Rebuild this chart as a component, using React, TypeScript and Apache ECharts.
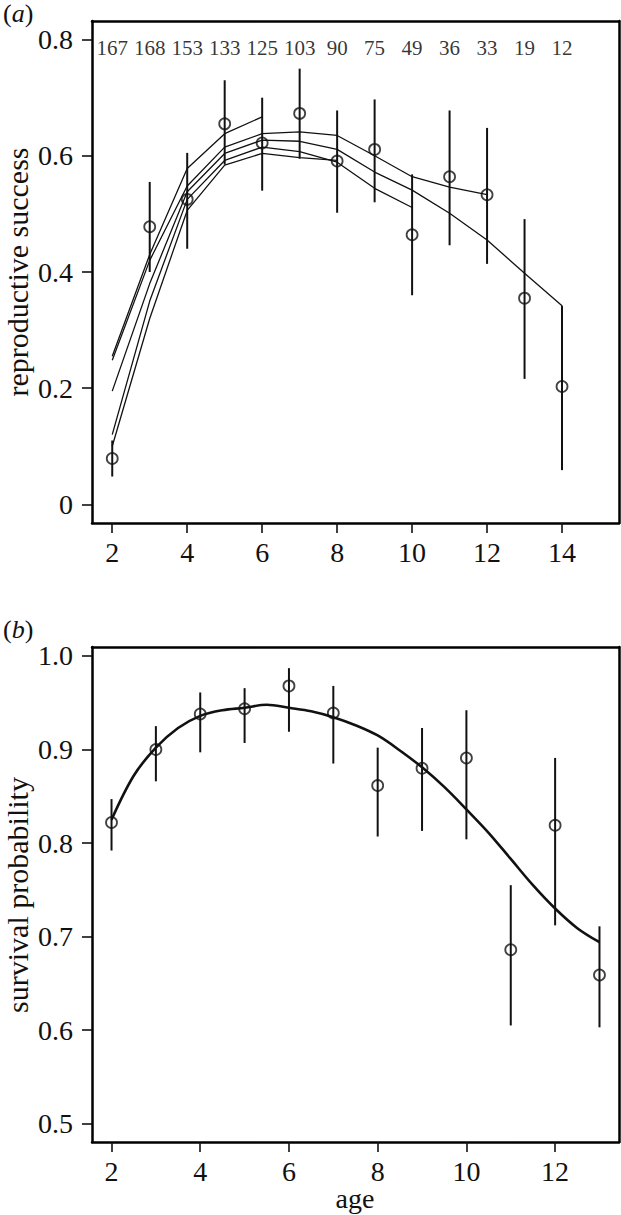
import React, { useEffect, useRef } from "react";
import * as echarts from "echarts";

// ---------- Panel (a): reproductive success ----------
const agesA = [2, 3, 4, 5, 6, 7, 8, 9, 10, 11, 12, 13, 14];
const sampleSizes = [167, 168, 153, 133, 125, 103, 90, 75, 49, 36, 33, 19, 12];
const rsMean = [0.079, 0.478, 0.525, 0.655, 0.622, 0.673, 0.591, 0.611, 0.464, 0.564, 0.533, 0.355, 0.203];
const rsLow = [0.048, 0.4, 0.44, 0.585, 0.54, 0.595, 0.502, 0.52, 0.36, 0.446, 0.414, 0.216, 0.059];
const rsHigh = [0.11, 0.555, 0.605, 0.73, 0.7, 0.75, 0.678, 0.697, 0.568, 0.678, 0.648, 0.491, 0.342];

// fitted trajectories (groups ending at different ages)
const fit6 = [0.255, 0.43, 0.578, 0.638, 0.667];
const fit12 = [0.248, 0.42, 0.548, 0.615, 0.638, 0.641, 0.635, 0.6, 0.564, 0.546, 0.533];
const fit14 = [0.195, 0.38, 0.538, 0.604, 0.627, 0.625, 0.611, 0.572, 0.541, 0.501, 0.455, 0.398, 0.342];
const fit10 = [0.12, 0.35, 0.525, 0.592, 0.615, 0.607, 0.589, 0.544, 0.511];
const fit8 = [0.1, 0.32, 0.506, 0.584, 0.604, 0.597, 0.592];

const xTicksA = [2, 4, 6, 8, 10, 12, 14];
const yTicksA = [0, 0.2, 0.4, 0.6, 0.8];
const sampleRowY = 0.786;

// ---------- Panel (b): survival probability ----------
const agesB = [2, 3, 4, 5, 6, 7, 8, 9, 10, 11, 12, 13];
const survMean = [0.822, 0.9, 0.938, 0.9435, 0.968, 0.939, 0.8615, 0.88, 0.891, 0.686, 0.819, 0.659];
const survLow = [0.792, 0.866, 0.897, 0.907, 0.919, 0.885, 0.807, 0.813, 0.804, 0.605, 0.712, 0.603];
const survHigh = [0.847, 0.925, 0.961, 0.9656, 0.987, 0.968, 0.902, 0.923, 0.942, 0.755, 0.891, 0.711];

const curveAges = [2, 2.5, 3, 3.5, 4, 4.5, 5, 5.5, 6, 6.5, 7, 7.5, 8, 8.5, 9, 9.5, 10, 10.5, 11, 11.5, 12, 12.5, 13];
const curveVals = [0.825, 0.872, 0.902, 0.923, 0.936, 0.942, 0.9446, 0.9478, 0.9446, 0.941, 0.9346, 0.926, 0.915, 0.899, 0.881, 0.86, 0.836, 0.811, 0.783, 0.755, 0.73, 0.709, 0.694];

const xTicksB = [2, 4, 6, 8, 10, 12];
const yTicksB = [0.5, 0.6, 0.7, 0.8, 0.9, 1.0];

const INK = "#111111";
const FRAME = "#000000";
const FONT = "Liberation Serif";

function pairs(xs: number[], ys: number[]) {
  return ys.map((y, i) => [xs[i], y]);
}

function errorBarSeries(xs: number[], lo: number[], hi: number[], axisIndex: number) {
  return {
    type: "custom",
    xAxisIndex: axisIndex,
    yAxisIndex: axisIndex,
    data: xs.map((x, i) => [x, lo[i], hi[i]]),
    renderItem: (params: any, api: any) => {
      const x = api.value(0);
      const p1 = api.coord([x, api.value(1)]);
      const p2 = api.coord([x, api.value(2)]);
      return {
        type: "line",
        shape: { x1: p1[0], y1: p1[1], x2: p2[0], y2: p2[1] },
        style: { stroke: INK, lineWidth: 2 },
      };
    },
    z: 3,
  };
}

function pointSeries(xs: number[], ys: number[], axisIndex: number) {
  return {
    type: "scatter",
    xAxisIndex: axisIndex,
    yAxisIndex: axisIndex,
    data: pairs(xs, ys),
    symbol: "circle",
    symbolSize: 11,
    itemStyle: { color: "rgba(0,0,0,0)", borderColor: INK, borderWidth: 1.8 },
    z: 5,
  };
}

function fitLine(vals: number[], axisIndex: number, width: number, smooth: boolean, xs?: number[]) {
  return {
    type: "line",
    xAxisIndex: axisIndex,
    yAxisIndex: axisIndex,
    data: pairs(xs || agesA, vals),
    showSymbol: false,
    symbol: "none",
    smooth: smooth ? 0.35 : false,
    lineStyle: { color: INK, width },
    z: 4,
  };
}

function frameLine() {
  return { show: true, onZero: false, lineStyle: { color: FRAME, width: 2.5, opacity: 1 } };
}

function xAxisDef(grid: number, min: number, max: number, ticks: number[]) {
  return {
    type: "value",
    gridIndex: grid,
    position: "bottom",
    min,
    max,
    axisLine: frameLine(),
    splitLine: { show: false },
    axisTick: { show: true, inside: false, length: 10, customValues: ticks, lineStyle: { color: INK, width: 1.6 } },
    axisLabel: { show: true, customValues: ticks, margin: 15, fontSize: 28, fontFamily: FONT, color: INK },
  };
}

function yAxisDef(grid: number, min: number, max: number, ticks: number[], fmt: (v: number) => string) {
  return {
    type: "value",
    gridIndex: grid,
    position: "left",
    min,
    max,
    axisLine: frameLine(),
    splitLine: { show: false },
    axisTick: { show: true, inside: false, length: 10, customValues: ticks, lineStyle: { color: INK, width: 1.6 } },
    axisLabel: { show: true, customValues: ticks, margin: 19, fontSize: 28, fontFamily: FONT, color: INK, formatter: fmt },
  };
}

function borderAxis(grid: number, min: number, max: number, position: string) {
  return {
    type: "value",
    gridIndex: grid,
    position,
    min,
    max,
    axisLine: frameLine(),
    splitLine: { show: false },
    axisTick: { show: false },
    axisLabel: { show: false },
  };
}

export default function App() {
  const ref = useRef<HTMLDivElement>(null);

  useEffect(() => {
    document.body.style.margin = "0";
    if (!ref.current) return;
    const chart = echarts.init(ref.current, undefined, { renderer: "svg" });

    const panelLabel = (letter: string, top: number) => ({
      type: "text",
      left: 3,
      top,
      style: {
        text: "{n|(}{i|" + letter + "}{n|)}",
        rich: {
          n: { fontSize: 26, fontFamily: FONT, fill: INK },
          i: { fontSize: 26, fontFamily: FONT, fontStyle: "italic", fill: INK },
        },
      },
    });

    const option: any = {
      animation: false,
      backgroundColor: "#ffffff",
      grid: [
        { left: 92, top: 21, width: 527, height: 502 },
        { left: 92, top: 647, width: 527, height: 495 },
      ],
      xAxis: [
        xAxisDef(0, 1.46, 15.52, xTicksA),
        xAxisDef(1, 1.56, 13.44, xTicksB),
        borderAxis(0, 1.46, 15.52, "top"),
        borderAxis(1, 1.56, 13.44, "top"),
      ],
      yAxis: [
        yAxisDef(0, -0.032, 0.832, yTicksA, (v: number) => (v === 0 ? "0" : v.toFixed(1))),
        yAxisDef(1, 0.4804, 1.0096, yTicksB, (v: number) => v.toFixed(1)),
        borderAxis(0, -0.032, 0.832, "right"),
        borderAxis(1, 0.4804, 1.0096, "right"),
      ],
      series: [
        fitLine(fit6, 0, 1.3, false),
        fitLine(fit12, 0, 1.3, false),
        fitLine(fit14, 0, 1.3, false),
        fitLine(fit10, 0, 1.3, false),
        fitLine(fit8, 0, 1.3, false),
        errorBarSeries(agesA, rsLow, rsHigh, 0),
        pointSeries(agesA, rsMean, 0),
        {
          type: "scatter",
          xAxisIndex: 0,
          yAxisIndex: 0,
          data: agesA.map((a, i) => [a, sampleRowY, sampleSizes[i]]),
          symbolSize: 0,
          label: {
            show: true,
            position: "inside",
            formatter: (p: any) => String(p.value[2]),
            fontSize: 21,
            fontFamily: FONT,
            color: "#000",
          },
          z: 6,
        },
        fitLine(curveVals, 1, 2.6, true, curveAges),
        errorBarSeries(agesB, survLow, survHigh, 1),
        pointSeries(agesB, survMean, 1),
      ],
      graphic: [
        panelLabel("a", 0),
        panelLabel("b", 616),
        {
          type: "text",
          x: 17,
          y: 272,
          rotation: Math.PI / 2,
          style: { text: "reproductive success", fontSize: 30, fontFamily: FONT, fill: INK, align: "center", verticalAlign: "middle" },
        },
        {
          type: "text",
          x: 17,
          y: 895,
          rotation: Math.PI / 2,
          style: { text: "survival probability", fontSize: 30, fontFamily: FONT, fill: INK, align: "center", verticalAlign: "middle" },
        },
        {
          type: "text",
          x: 355,
          y: 1198,
          style: { text: "age", fontSize: 28, fontFamily: FONT, fill: INK, align: "center", verticalAlign: "middle" },
        },
      ],
    };

    chart.setOption(option);
    return () => chart.dispose();
  }, []);

  return (
    <div
      ref={ref}
      style={{ position: "fixed", left: 0, top: 0, width: 621, height: 1215, background: "#fff" }}
    />
  );
}
